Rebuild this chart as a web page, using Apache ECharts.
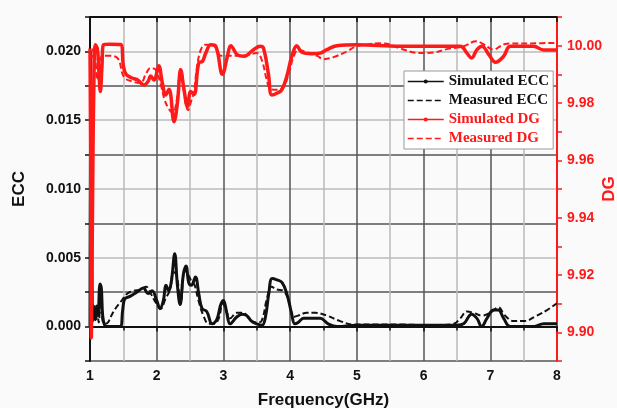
<!DOCTYPE html>
<html>
<head>
<meta charset="utf-8">
<script src="https://cdn.jsdelivr.net/npm/echarts@6/dist/echarts.min.js"></script>
<style>
  html, body { margin: 0; padding: 0; background: #fafafa; }
  #chart { width: 617px; height: 408px; }
</style>
</head>
<body>
<div id="chart"></div>
<script>
  // values
  var simEccFreq = [1.00, 1.01, 1.02, 1.03, 1.04, 1.06, 1.08, 1.10, 1.12, 1.15, 1.17, 1.19, 1.22, 1.26, 1.45, 1.49, 1.52, 1.60, 1.70, 1.80, 1.87, 1.93, 2.00, 2.05, 2.10, 2.14, 2.18, 2.22, 2.27, 2.31, 2.35, 2.40, 2.44, 2.48, 2.52, 2.58, 2.63, 2.68, 2.75, 2.83, 2.90, 2.96, 3.00, 3.05, 3.10, 3.20, 3.28, 3.35, 3.42, 3.50, 3.58, 3.63, 3.68, 3.73, 3.80, 3.88, 3.95, 4.02, 4.07, 4.12, 4.20, 4.33, 4.45, 4.57, 4.70, 5.00, 5.50, 6.00, 6.50, 6.60, 6.72, 6.80, 6.87, 6.95, 7.05, 7.12, 7.20, 7.30, 7.65, 7.80, 8.00];
  var simEccVal = [0.0000, 0.0200, 0.0120, 0.0040, 0.0004, 0.0012, 0.0005, 0.0015, 0.0008, 0.0031, 0.0028, 0.0008, 0.0001, 0.0000, 0.0000, 0.0012, 0.0020, 0.0022, 0.0025, 0.0028, 0.0024, 0.0026, 0.0019, 0.0013, 0.0019, 0.0030, 0.0026, 0.0033, 0.0053, 0.0030, 0.0016, 0.0038, 0.0044, 0.0032, 0.0030, 0.0036, 0.0024, 0.0013, 0.0011, 0.0002, 0.0005, 0.0016, 0.0019, 0.0010, 0.0002, 0.0007, 0.0009, 0.0008, 0.0004, 0.0002, 0.0001, 0.0007, 0.0024, 0.0035, 0.0034, 0.0032, 0.0024, 0.0010, 0.0002, 0.0003, 0.0006, 0.0006, 0.0006, 0.0002, 0.0000, 0.0001, 0.0001, 0.0001, 0.0001, 0.0002, 0.0009, 0.0006, 0.0000, 0.0006, 0.0012, 0.0012, 0.0006, 0.0000, 0.0000, 0.0002, 0.0002];

  var measEccFreq = [1.00, 1.02, 1.03, 1.05, 1.07, 1.09, 1.11, 1.13, 1.16, 1.19, 1.23, 1.27, 1.31, 1.38, 1.46, 1.56, 1.66, 1.76, 1.84, 1.91, 1.98, 2.06, 2.13, 2.20, 2.25, 2.30, 2.36, 2.42, 2.47, 2.52, 2.57, 2.62, 2.70, 2.78, 2.86, 2.93, 2.99, 3.04, 3.10, 3.20, 3.30, 3.40, 3.50, 3.57, 3.65, 3.72, 3.80, 3.90, 3.99, 4.05, 4.12, 4.25, 4.38, 4.55, 4.75, 4.95, 5.30, 5.65, 6.15, 6.45, 6.55, 6.65, 6.75, 6.87, 7.00, 7.12, 7.22, 7.35, 7.50, 7.70, 7.85, 8.00];
  var measEccVal = [0.0000, 0.0100, 0.0030, 0.0008, 0.0015, 0.0005, 0.0012, 0.0003, 0.0020, 0.0004, 0.0002, 0.0003, 0.0007, 0.0013, 0.0018, 0.0024, 0.0026, 0.0027, 0.0029, 0.0024, 0.0018, 0.0013, 0.0020, 0.0027, 0.0040, 0.0037, 0.0017, 0.0041, 0.0038, 0.0033, 0.0030, 0.0020, 0.0008, 0.0002, 0.0002, 0.0006, 0.0017, 0.0012, 0.0006, 0.0010, 0.0010, 0.0005, 0.0003, 0.0004, 0.0020, 0.0029, 0.0027, 0.0026, 0.0017, 0.0007, 0.0008, 0.0010, 0.0010, 0.0008, 0.0004, 0.00015, 0.00015, 0.00015, 0.0001, 0.0002, 0.0006, 0.0011, 0.0010, 0.0008, 0.0010, 0.0014, 0.0008, 0.0004, 0.0004, 0.0008, 0.0012, 0.0017];

  var simDgFreq = [1.00, 1.01, 1.02, 1.04, 1.06, 1.08, 1.11, 1.13, 1.155, 1.18, 1.20, 1.30, 1.46, 1.50, 1.54, 1.62, 1.71, 1.81, 1.87, 1.91, 1.96, 2.03, 2.085, 2.135, 2.185, 2.26, 2.31, 2.36, 2.41, 2.46, 2.51, 2.56, 2.63, 2.685, 2.735, 2.81, 2.885, 2.985, 3.06, 3.11, 3.21, 3.31, 3.45, 3.55, 3.60, 3.675, 3.725, 3.80, 3.875, 3.95, 4.025, 4.10, 4.175, 4.325, 4.45, 4.55, 4.70, 5.00, 5.65, 6.55, 6.65, 6.72, 6.80, 6.875, 6.975, 7.08, 7.20, 7.30, 7.65, 7.80, 8.00];
  var simDgVal = [9.9990, 9.9600, 9.8980, 9.9500, 9.9900, 10.0003, 9.9990, 9.9920, 9.9840, 9.9930, 10.0003, 10.0005, 10.0004, 9.9930, 9.9900, 9.9888, 9.9881, 9.9863, 9.9875, 9.9894, 9.9880, 9.9930, 9.9869, 9.9828, 9.9848, 9.9735, 9.9800, 9.9916, 9.9846, 9.9788, 9.9840, 9.9830, 9.9940, 9.9945, 9.9974, 10.0003, 9.9998, 9.9900, 9.9963, 10.0000, 9.9968, 9.9963, 9.9986, 9.9998, 9.9992, 9.9900, 9.9828, 9.9834, 9.9846, 9.9893, 9.9963, 10.0000, 9.9977, 9.9972, 9.9974, 9.9986, 10.0000, 10.0003, 9.9998, 9.9998, 9.9974, 9.9957, 9.9986, 9.9998, 9.9970, 9.9942, 9.9963, 9.9998, 9.9998, 9.9985, 9.9985];

  var measDgFreq = [1.00, 1.03, 1.05, 1.08, 1.11, 1.14, 1.18, 1.26, 1.41, 1.51, 1.635, 1.76, 1.835, 1.91, 1.985, 2.06, 2.12, 2.18, 2.24, 2.30, 2.36, 2.42, 2.47, 2.52, 2.56, 2.60, 2.66, 2.73, 2.80, 2.88, 2.96, 3.05, 3.30, 3.50, 3.575, 3.65, 3.70, 3.80, 3.90, 3.975, 4.05, 4.125, 4.25, 4.40, 4.50, 4.65, 4.85, 4.975, 5.15, 5.35, 5.50, 5.65, 5.95, 6.15, 6.35, 6.60, 6.79, 6.90, 7.05, 7.15, 7.25, 7.65, 8.00];
  var measDgVal = [9.9970, 9.9960, 9.9990, 9.9950, 9.9880, 9.9940, 9.9963, 9.9965, 9.9957, 9.9890, 9.9875, 9.9870, 9.9900, 9.9922, 9.9916, 9.9865, 9.9810, 9.9780, 9.9765, 9.9810, 9.9920, 9.9820, 9.9775, 9.9810, 9.9840, 9.9920, 9.9985, 10.0003, 10.0003, 9.9995, 9.9965, 9.9965, 9.9965, 9.9974, 9.9950, 9.9880, 9.9850, 9.9846, 9.9856, 9.9900, 9.9960, 9.9986, 9.9977, 9.9965, 9.9953, 9.9960, 9.9980, 9.9996, 10.0004, 10.0008, 10.0004, 9.9990, 9.9974, 9.9976, 9.9988, 9.9998, 10.0015, 10.0005, 9.9986, 9.9998, 10.0007, 10.0008, 10.0010];

  var RED = '#ff1a1a';

  function pairs(xs, ys) {
    return xs.map(function (x, i) { return [x, ys[i]]; });
  }

  var myChart = echarts.init(document.getElementById('chart'));
  myChart.setOption({
    backgroundColor: '#fafafa',
    animation: false,
    grid: { left: 90, right: 60, top: 17, bottom: 47, outerBoundsMode: 'none', containLabel: false },
    legend: {
      orient: 'vertical',
      left: 404,
      top: 71,
      padding: [3, 4, 3, 3],
      itemGap: 4,
      itemWidth: 36,
      itemHeight: 5,
      backgroundColor: '#ffffff',
      borderColor: '#999',
      borderWidth: 1,
      lineStyle: { width: 1.5 },
      textStyle: { fontFamily: 'Liberation Serif', fontWeight: 'bold', fontSize: 15, color: '#111', padding: [2, 0, 1, 0] },
      data: [
        { name: 'Simulated ECC' },
        { name: 'Measured ECC', itemStyle: { opacity: 0 } },
        { name: 'Simulated DG', textStyle: { color: RED } },
        { name: 'Measured DG', itemStyle: { opacity: 0 }, textStyle: { color: RED } }
      ]
    },
    xAxis: [
      {
        type: 'value',
        min: 1, max: 8, interval: 1,
        name: 'Frequency(GHz)',
        nameLocation: 'middle',
        nameGap: 31,
        nameMoveOverlap: false,
        nameTextStyle: { fontFamily: 'Liberation Sans', fontWeight: 'bold', fontSize: 17, color: '#111', verticalAlign: 'top' },
        axisLine: { lineStyle: { color: '#111', width: 2 } },
        axisTick: { length: 5, lineStyle: { color: '#111', width: 1.5 } },
        minorTick: { show: true, splitNumber: 2, length: 4, lineStyle: { color: '#111', width: 1.5 } },
        axisLabel: { fontFamily: 'Liberation Sans', fontWeight: 'bold', fontSize: 14, color: '#111', margin: 8 },
        splitLine: { show: true, lineStyle: { color: '#555', width: 1.5 } },
        minorSplitLine: { show: true, lineStyle: { color: '#bbb', width: 1.5 } }
      },
      {
        type: 'value',
        position: 'top',
        min: 1, max: 8, interval: 1,
        axisLine: { lineStyle: { color: '#111', width: 2 } },
        axisTick: { inside: true, length: 5, lineStyle: { color: '#111', width: 1.5 } },
        minorTick: { show: true, splitNumber: 2, length: 5, lineStyle: { color: '#111', width: 1.5 } },
        axisLabel: { show: false },
        splitLine: { show: false }
      }
    ],
    yAxis: [
      {
        type: 'value',
        min: -0.0025, max: 0.0225, interval: 0.0025,
        name: 'ECC',
        nameLocation: 'middle',
        nameGap: 62,
        nameRotate: 90,
        nameMoveOverlap: false,
        nameTextStyle: { fontFamily: 'Liberation Sans', fontWeight: 'bold', fontSize: 17, color: '#111' },
        axisLine: { show: true, lineStyle: { color: '#111', width: 2 } },
        axisTick: { show: true, length: 5, lineStyle: { color: '#111', width: 1.5 } },
        axisLabel: {
          fontFamily: 'Liberation Sans', fontWeight: 'bold', fontSize: 14, color: '#111', margin: 9,
          formatter: function (v) {
            return Math.round(v * 10000) % 50 === 0 ? v.toFixed(3) : '';
          }
        },
        splitLine: { show: true, lineStyle: { color: ['#555', '#bbb'], width: 1.5 } }
      },
      {
        type: 'value',
        position: 'right',
        min: 9.89, max: 10.01, interval: 0.01,
        name: 'DG',
        nameLocation: 'middle',
        nameGap: 44,
        nameRotate: 90,
        nameMoveOverlap: false,
        nameTextStyle: { fontFamily: 'Liberation Sans', fontWeight: 'bold', fontSize: 17, color: RED },
        axisLine: { show: true, lineStyle: { color: RED, width: 2 } },
        axisTick: { show: true, length: 5, lineStyle: { color: RED, width: 1.5 } },
        axisLabel: {
          fontFamily: 'Liberation Sans', fontWeight: 'bold', fontSize: 14, color: RED, margin: 10,
          formatter: function (v) {
            return Math.round(v * 100) % 2 === 0 ? v.toFixed(2) : '';
          }
        },
        splitLine: { show: false }
      }
    ],
    series: [
      {
        name: 'Simulated ECC',
        type: 'line',
        yAxisIndex: 0,
        smooth: 0.4,
        symbol: 'circle',
        symbolSize: 4,
        showSymbol: false,
        itemStyle: { color: '#111' },
        lineStyle: { color: '#111', width: 3 },
        data: pairs(simEccFreq, simEccVal)
      },
      {
        name: 'Measured ECC',
        type: 'line',
        yAxisIndex: 0,
        smooth: 0.4,
        symbol: 'none',
        itemStyle: { color: '#111' },
        lineStyle: { color: '#111', width: 2, type: [6, 3] },
        data: pairs(measEccFreq, measEccVal)
      },
      {
        name: 'Simulated DG',
        type: 'line',
        yAxisIndex: 1,
        smooth: 0.4,
        symbol: 'circle',
        symbolSize: 4,
        showSymbol: false,
        itemStyle: { color: RED },
        lineStyle: { color: RED, width: 3.5 },
        data: pairs(simDgFreq, simDgVal)
      },
      {
        name: 'Measured DG',
        type: 'line',
        yAxisIndex: 1,
        smooth: 0.4,
        symbol: 'none',
        itemStyle: { color: RED },
        lineStyle: { color: RED, width: 2, type: [6, 3] },
        data: pairs(measDgFreq, measDgVal)
      }
    ]
  });
</script>
</body>
</html>
